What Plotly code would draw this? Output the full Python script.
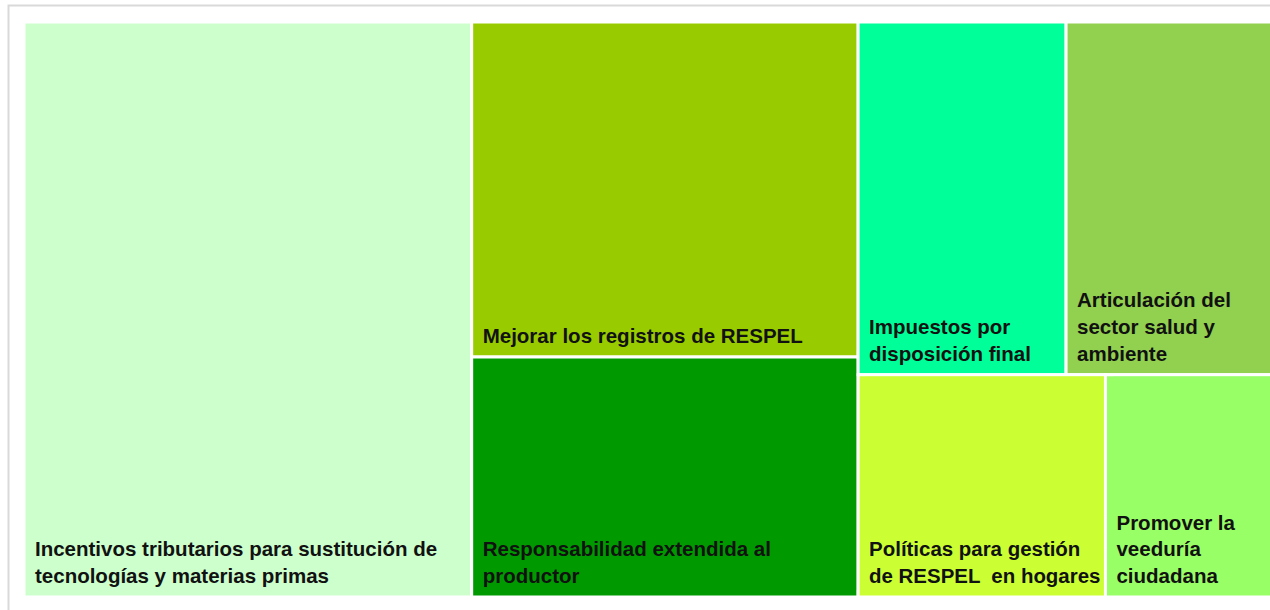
import plotly.graph_objects as go

labels = [
    "Incentivos tributarios para sustitución de<br>tecnologías y materias primas",
    "Mejorar los registros de RESPEL",
    "Responsabilidad extendida al<br>productor",
    "Impuestos por<br>disposición final",
    "Articulación del<br>sector salud y<br>ambiente",
    "Políticas para gestión<br>de RESPEL  en hogares",
    "Promover la<br>veeduría<br>ciudadana",
]
values = [35.8, 18.0, 12.9, 10.2, 10.1, 7.65, 5.15]
colors = ["#CCFFCC", "#99CC00", "#009900", "#00FF99", "#92D050", "#CCFF33", "#99FF66"]

n = len(labels)
# each visible tile = an outer box holding one inner box of the same colour,
# so the label sits inset from the tile edge like the reference
ids = ["P%d" % i for i in range(n)] + ["C%d" % i for i in range(n)]
parents = [""] * n + ["P%d" % i for i in range(n)]
tile_labels = [lab.replace("<br>", " ") for lab in labels] * 2
texts = ["\u00a0"] * n + labels
vals = values + values
cols = colors + colors
line_w = [3] * n + [0] * n
text_cols = ["rgba(0,0,0,0)"] * n + ["#111111"] * n

fig = go.Figure(go.Treemap(
    ids=ids,
    labels=tile_labels,
    parents=parents,
    values=vals,
    text=texts,
    branchvalues="total",
    sort=True,
    marker=dict(colors=cols, line=dict(color="white", width=line_w),
                pad=dict(t=2, l=8, r=2, b=7)),
    textposition="bottom left",
    texttemplate="<b>%{text}</b>",
    textfont=dict(family="Arial, Liberation Sans", size=20.5, color=text_cols),
    tiling=dict(packing="squarify", pad=0),
    pathbar=dict(visible=False),
    hoverinfo="label+value",
))

fig.update_layout(
    width=1274, height=610,
    margin=dict(l=16, r=0, t=20, b=6, pad=0),
    paper_bgcolor="white",
    shapes=[dict(type="rect", xref="paper", yref="paper",
                 x0=-0.00596, x1=1.1, y0=-0.1, y1=1.0248,
                 line=dict(color="#D9D9D9", width=2), fillcolor="rgba(0,0,0,0)")],
)

fig.write_html(
    "out.html",
    config={"displayModeBar": False},
    post_script="document.body.style.margin='0';document.body.style.overflow='hidden';",
)
